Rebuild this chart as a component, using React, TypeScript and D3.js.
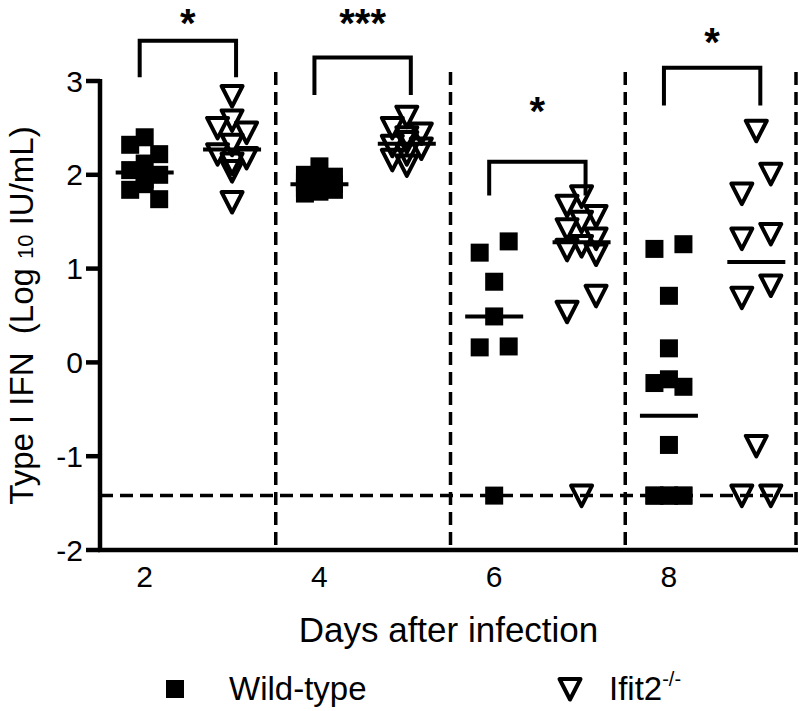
import * as d3 from "d3";

// days after infection and genotypes
const days = [2, 4, 6, 8];
const genotypes = ["Wild-type", "Ifit2"];

// Type I IFN, log10 IU/mL, one array per day / genotype
const wtDay2 = [2.40, 2.32, 2.22, 2.12, 2.05, 2.00, 1.95, 1.90, 1.84, 1.74];
const koDay2 = [2.84, 2.58, 2.50, 2.45, 2.32, 2.22, 2.18, 2.12, 2.04, 1.71];
const wtDay4 = [2.09, 2.00, 1.98, 1.95, 1.92, 1.90, 1.88, 1.86, 1.84, 1.82, 1.80];
const koDay4 = [2.62, 2.50, 2.44, 2.40, 2.35, 2.31, 2.28, 2.22, 2.16, 2.10];
const wtDay6 = [1.29, 1.17, 0.86, 0.49, 0.17, 0.16, -1.42];
const koDay6 = [1.77, 1.67, 1.56, 1.50, 1.42, 1.32, 1.24, 1.20, 1.15, 0.71, 0.54, -1.42];
const wtDay8 = [1.26, 1.21, 0.71, 0.15, -0.18, -0.22, -0.26, -0.88, -1.42, -1.42, -1.42, -1.42, -1.42, -1.42];
const koDay8 = [2.47, 2.01, 1.80, 1.37, 1.32, 0.82, 0.69, -0.89, -1.42, -1.42];

const detectionLimit = -1.42;
const yTicks = [-2, -1, 0, 1, 2, 3];

// significance per day
const sigLabels = ["*", "***", "*", "*"];
const sigLabelAt = [3.66, 3.66, 2.72, 3.46];
const sigBracketTop = [3.43, 3.25, 2.14, 3.14];
const sigBracketLeg = [3.04, 2.85, 1.78, 2.74];

const font = "'Liberation Sans', Arial, sans-serif";

// prism-like spread: values close together share a row and get pushed sideways
const spread = (values, rowPx, yScale) => {
  const sorted = values.slice().sort((a, b) => b - a);
  const rows = [];
  sorted.forEach(v => {
    const last = rows[rows.length - 1];
    if (last && Math.abs(yScale(last[0]) - yScale(v)) <= rowPx) last.push(v);
    else rows.push([v]);
  });
  const out = [];
  rows.forEach(row => {
    row.forEach((v, i) => {
      let k = 0;
      if (row.length === 2) k = i === 0 ? 1 : -1;
      else if (row.length > 2) k = [0, -1, 1][i % 3];
      out.push({ value: v, k });
    });
  });
  return out;
};

const triPath = "M-10.5,-10L10.5,-10L0,10.5Z";

export default function App() {
  const width = 800;
  const height = 711;
  const top = 81, bottom = 550, left = 100, right = 797;

  const y = d3.scaleLinear().domain([-2, 3]).range([bottom, top]);
  const colKeys = days.flatMap(d => genotypes.map(g => d + "-" + g));
  const xCol = d3.scaleBand().domain(colKeys).range([101, 800]).padding(0);
  const cx = (d, g) => xCol(d + "-" + g) + xCol.bandwidth() / 2;

  const groups = [
    { day: 2, geno: "Wild-type", values: wtDay2 },
    { day: 2, geno: "Ifit2", values: koDay2 },
    { day: 4, geno: "Wild-type", values: wtDay4 },
    { day: 4, geno: "Ifit2", values: koDay4 },
    { day: 6, geno: "Wild-type", values: wtDay6 },
    { day: 6, geno: "Ifit2", values: koDay6 },
    { day: 8, geno: "Wild-type", values: wtDay8 },
    { day: 8, geno: "Ifit2", values: koDay8 },
  ];

  const step = 14.5;
  const dividers = days.slice(1).map(d => xCol(d + "-Wild-type")).concat([796]);

  return (
    <svg width={width} height={height} style={{ position: "absolute", left: 0, top: 0, background: "#fff" }}
      fontFamily={font}>
      <rect width={width} height={height} fill="#fff" />

      {/* dashed separators and detection limit */}
      {dividers.map((x, i) => (
        <line key={"dv" + i} x1={x} x2={x} y1={72} y2={bottom} stroke="#000" strokeWidth={3.5} strokeDasharray="13,7" />
      ))}
      <line x1={left} x2={796} y1={y(detectionLimit)} y2={y(detectionLimit)} stroke="#000" strokeWidth={3.5} strokeDasharray="13,7" />

      {/* points */}
      {groups.map((g, gi) => {
        const isWt = g.geno === "Wild-type";
        const c = cx(g.day, g.geno);
        const pts = spread(g.values, isWt ? 18 : 21, y);
        return (
          <g key={"g" + gi}>
            {pts.map((p, i) =>
              isWt ? (
                <rect key={i} x={c + p.k * step - 9} y={y(p.value) - 9} width={18} height={18} fill="#000" />
              ) : (
                <path key={i} d={triPath} transform={`translate(${c + p.k * step},${y(p.value)})`}
                  fill="none" stroke="#000" strokeWidth={4} strokeLinejoin="round" />
              )
            )}
          </g>
        );
      })}

      {/* medians */}
      {groups.map((g, gi) => {
        const c = cx(g.day, g.geno);
        const m = d3.median(g.values);
        return <line key={"m" + gi} x1={c - 29} x2={c + 29} y1={y(m)} y2={y(m)} stroke="#000" strokeWidth={4} />;
      })}

      {/* significance brackets */}
      {days.map((d, i) => {
        const x1 = cx(d, "Wild-type") - 5;
        const x2 = cx(d, "Ifit2") + 4;
        const yt = y(sigBracketTop[i]);
        const yl = y(sigBracketLeg[i]);
        return (
          <g key={"s" + i}>
            <path d={`M${x1},${yl}V${yt}H${x2}V${yl}`} fill="none" stroke="#000" strokeWidth={4} />
            <text x={(x1 + x2) / 2} y={y(sigLabelAt[i]) + 18} textAnchor="middle" fontSize={40} fontWeight="bold">
              {sigLabels[i]}
            </text>
          </g>
        );
      })}

      {/* axes */}
      <line x1={left} x2={left} y1={top - 2} y2={bottom + 2} stroke="#000" strokeWidth={4.5} />
      <line x1={left - 2} x2={right + 1} y1={bottom} y2={bottom} stroke="#000" strokeWidth={4.5} />
      {yTicks.map(t => (
        <g key={"t" + t}>
          <line x1={left - 14} x2={left} y1={y(t)} y2={y(t)} stroke="#000" strokeWidth={4.5} />
          <text x={left - 17} y={y(t)} dy="0.35em" textAnchor="end" fontSize={30}>{t}</text>
        </g>
      ))}
      {days.map(d => (
        <text key={"x" + d} x={cx(d, "Wild-type")} y={587} textAnchor="middle" fontSize={30}>{d}</text>
      ))}

      {/* titles */}
      <text x={(left + right) / 2} y={642} textAnchor="middle" fontSize={35}>Days after infection</text>
      <text transform={`translate(33,${(top + bottom) / 2}) rotate(-90)`} textAnchor="middle" fontSize={33}
        style={{ whiteSpace: "pre" }}>
        {"Type I IFN  (Log "}<tspan fontSize={22}>10</tspan>{" IU/mL)"}
      </text>

      {/* legend */}
      <rect x={166} y={680} width={18} height={18} fill="#000" />
      <text x={229} y={700} fontSize={33}>Wild-type</text>
      <path d={triPath} transform="translate(570,689)" fill="none" stroke="#000" strokeWidth={4} strokeLinejoin="round" />
      <text x={609} y={700} fontSize={33}>
        Ifit2<tspan fontSize={20} dy={-14}>-/-</tspan>
      </text>
    </svg>
  );
}
